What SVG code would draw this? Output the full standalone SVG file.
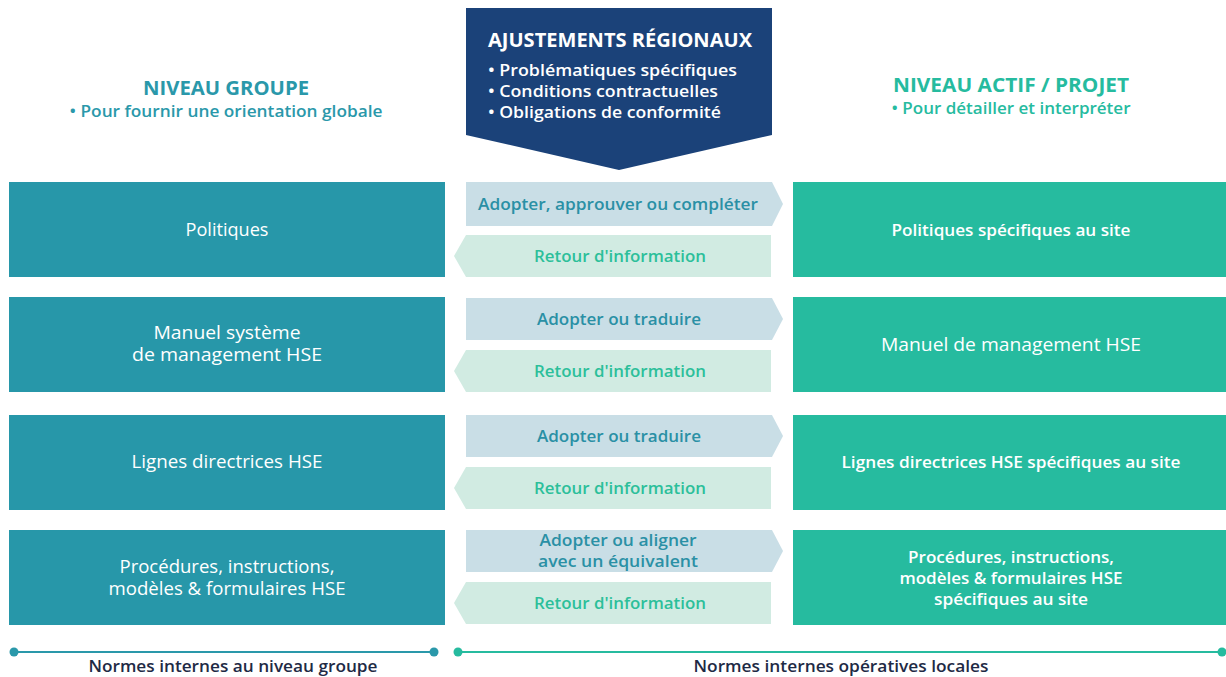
<svg xmlns="http://www.w3.org/2000/svg" width="1226" height="677" viewBox="0 0 1226 677">
<style>
text{font-family:"Open Sans","Noto Sans","Liberation Sans",sans-serif;}
.lbox{fill:#2797a9}
.rbox{fill:#26bb9f}
.bt{fill:#ffffff;font-size:17.5px;text-anchor:middle}
.btm{fill:#ffffff;font-size:17px;font-weight:600;text-anchor:middle}
.btm2{fill:#ffffff;font-size:16px;font-weight:600;text-anchor:middle}
.fwd{fill:#c9dee6}
.back{fill:#d1ebe2}
.ft{fill:#2a90a5;font-size:17px;font-weight:600;text-anchor:middle}
.bkt{fill:#2cbf9a;font-size:17px;font-weight:600;text-anchor:middle}
.ban{fill:#1b4279}
.ftr{fill:#1e2a45;font-size:16.5px;font-weight:600;text-anchor:middle}
</style>
<rect width="1226" height="677" fill="#ffffff"/>
<g id="banner">
<polygon class="ban" points="466,8 772,8 772,135 619,170 466,135"/>
<text x="620" y="47" fill="#ffffff" font-size="20" font-weight="700" text-anchor="middle" textLength="264" lengthAdjust="spacingAndGlyphs">AJUSTEMENTS RÉGIONAUX</text>
<text x="488" y="76" fill="#ffffff" font-size="17" font-weight="600" textLength="249" lengthAdjust="spacingAndGlyphs">• Problématiques spécifiques</text>
<text x="488" y="97" fill="#ffffff" font-size="17" font-weight="600" textLength="230" lengthAdjust="spacingAndGlyphs">• Conditions contractuelles</text>
<text x="488" y="118" fill="#ffffff" font-size="17" font-weight="600" textLength="233" lengthAdjust="spacingAndGlyphs">• Obligations de conformité</text>
</g>
<g id="header-groupe">
<text x="226" y="95" fill="#2a98aa" font-size="20" font-weight="700" text-anchor="middle" textLength="166" lengthAdjust="spacingAndGlyphs">NIVEAU GROUPE</text>
<text x="226" y="117" fill="#2a98aa" font-size="17" font-weight="600" text-anchor="middle" textLength="313" lengthAdjust="spacingAndGlyphs">• Pour fournir une orientation globale</text>
</g>
<g id="header-actif">
<text x="1011" y="92" fill="#26bb9f" font-size="20" font-weight="700" text-anchor="middle" textLength="236" lengthAdjust="spacingAndGlyphs">NIVEAU ACTIF / PROJET</text>
<text x="1011" y="114" fill="#26bb9f" font-size="17" font-weight="600" text-anchor="middle" textLength="239" lengthAdjust="spacingAndGlyphs">• Pour détailler et interpréter</text>
</g>
<g id="g-politiques"><rect class="lbox" x="9" y="182" width="436" height="95"/><text class="bt" x="227" y="236" textLength="83" lengthAdjust="spacingAndGlyphs">Politiques</text></g>
<g id="g-manuel"><rect class="lbox" x="9" y="297" width="436" height="95"/><text class="bt" x="227" y="339" textLength="147" lengthAdjust="spacingAndGlyphs">Manuel système</text><text class="bt" x="227" y="361" textLength="190" lengthAdjust="spacingAndGlyphs">de management HSE</text></g>
<g id="g-lignes"><rect class="lbox" x="9" y="415" width="436" height="95"/><text class="bt" x="227" y="468" textLength="191" lengthAdjust="spacingAndGlyphs">Lignes directrices HSE</text></g>
<g id="g-procedures"><rect class="lbox" x="9" y="530" width="436" height="95"/><text class="bt" x="227" y="573" textLength="215" lengthAdjust="spacingAndGlyphs">Procédures, instructions,</text><text class="bt" x="227" y="595" textLength="237" lengthAdjust="spacingAndGlyphs">modèles &amp; formulaires HSE</text></g>
<g id="s-politiques"><rect class="rbox" x="793" y="182" width="433" height="95"/><text class="btm" x="1011" y="236" textLength="239" lengthAdjust="spacingAndGlyphs">Politiques spécifiques au site</text></g>
<g id="s-manuel"><rect class="rbox" x="793" y="297" width="433" height="95"/><text class="bt" x="1011" y="351" textLength="260" lengthAdjust="spacingAndGlyphs">Manuel de management HSE</text></g>
<g id="s-lignes"><rect class="rbox" x="793" y="415" width="433" height="95"/><text class="btm" x="1011" y="468" textLength="339" lengthAdjust="spacingAndGlyphs">Lignes directrices HSE spécifiques au site</text></g>
<g id="s-procedures"><rect class="rbox" x="793" y="530" width="433" height="95"/><text class="btm2" x="1011" y="563" textLength="206" lengthAdjust="spacingAndGlyphs">Procédures, instructions,</text><text class="btm2" x="1011" y="584" textLength="223" lengthAdjust="spacingAndGlyphs">modèles &amp; formulaires HSE</text><text class="btm2" x="1011" y="605" textLength="154" lengthAdjust="spacingAndGlyphs">spécifiques au site</text></g>
<g id="connectors">
<polygon class="fwd" points="466,182 772,182 783,204 772,226 466,226"/>
<text class="ft" x="618" y="210" textLength="280" lengthAdjust="spacingAndGlyphs">Adopter, approuver ou compléter</text>
<polygon class="back" points="466,235 771,235 771,277 466,277 454,256"/>
<text class="bkt" x="620" y="262" textLength="172" lengthAdjust="spacingAndGlyphs">Retour d'information</text>
<polygon class="fwd" points="466,298 772,298 783,319 772,340 466,340"/>
<text class="ft" x="619" y="325" textLength="164" lengthAdjust="spacingAndGlyphs">Adopter ou traduire</text>
<polygon class="back" points="466,350 771,350 771,392 466,392 454,371"/>
<text class="bkt" x="620" y="377" textLength="172" lengthAdjust="spacingAndGlyphs">Retour d'information</text>
<polygon class="fwd" points="466,415 772,415 783,436 772,457 466,457"/>
<text class="ft" x="619" y="442" textLength="164" lengthAdjust="spacingAndGlyphs">Adopter ou traduire</text>
<polygon class="back" points="466,467 771,467 771,509 466,509 454,488"/>
<text class="bkt" x="620" y="494" textLength="172" lengthAdjust="spacingAndGlyphs">Retour d'information</text>
<polygon class="fwd" points="466,530 772,530 783,551 772,572 466,572"/>
<text class="ft" x="618" y="546" textLength="157" lengthAdjust="spacingAndGlyphs">Adopter ou aligner</text>
<text class="ft" x="618" y="567" textLength="160" lengthAdjust="spacingAndGlyphs">avec un équivalent</text>
<polygon class="back" points="466,582 771,582 771,624 466,624 454,603"/>
<text class="bkt" x="620" y="609" textLength="172" lengthAdjust="spacingAndGlyphs">Retour d'information</text>
</g>
<g id="footer-groupe">
<line x1="14" y1="652" x2="434" y2="652" stroke="#2a98aa" stroke-width="2"/>
<circle cx="14" cy="652" r="4.5" fill="#2a98aa"/>
<circle cx="434" cy="652" r="4.5" fill="#2a98aa"/>
<text class="ftr" x="233" y="672" textLength="289" lengthAdjust="spacingAndGlyphs">Normes internes au niveau groupe</text>
</g>
<g id="footer-local">
<line x1="458" y1="652" x2="1222" y2="652" stroke="#26bb9f" stroke-width="2"/>
<circle cx="458" cy="652" r="4.5" fill="#26bb9f"/>
<circle cx="1222" cy="652" r="4.5" fill="#26bb9f"/>
<text class="ftr" x="841" y="672" textLength="295" lengthAdjust="spacingAndGlyphs">Normes internes opératives locales</text>
</g>
</svg>
